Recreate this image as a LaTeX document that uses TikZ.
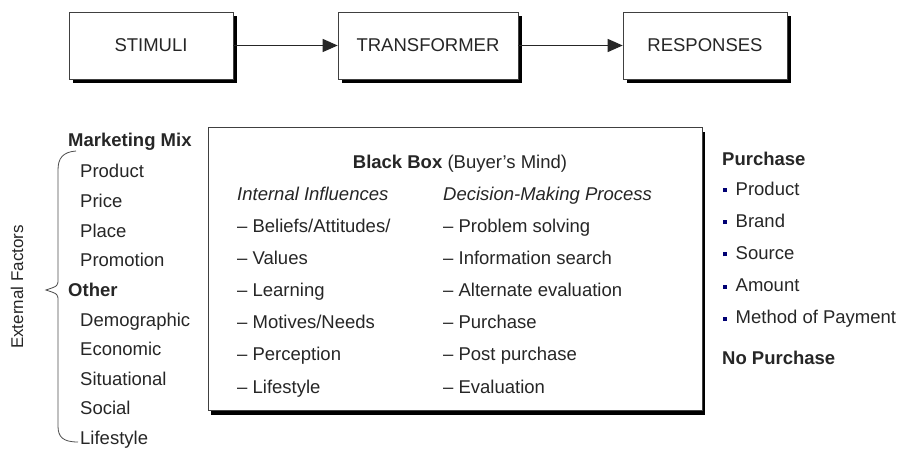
\documentclass[tikz,border=0pt]{standalone}
\usepackage{fontspec}
\setmainfont{Liberation Sans}
\usetikzlibrary{arrows.meta,shadows}

\newcommand{\sqbullet}{\textcolor{blue!45!black}{\rule[3pt]{3.5pt}{4pt}}}

\begin{document}
\begin{tikzpicture}[
  x=1pt,y=-1pt,
  font=\fontsize{18.5}{22}\selectfont,
  every node/.style={text=black!85,inner sep=0pt},
  stage/.style={draw=black!75,semithick,fill=white,minimum height=67pt,
    general shadow={fill=black,shadow xshift=4pt,shadow yshift=-4pt}},
  mindbox/.style={draw=black!75,semithick,fill=white,
    minimum width=494pt,minimum height=283pt,
    general shadow={fill=black,shadow xshift=3pt,shadow yshift=-5pt}},
  item/.style={anchor=base west},
  head/.style={anchor=base west,font=\fontsize{18.5}{22}\selectfont\bfseries},
  subhead/.style={anchor=base west,font=\fontsize{18.5}{22}\selectfont\itshape},
  to/.style={-{Triangle[length=15pt,width=13pt]},very thick,black!85},
  brace/.style={draw=black!70,thick}]
\useasboundingbox (0,0) rectangle (901,449);
% The three stages across the top
  \node[stage,minimum width=164pt] (stimuli)     at (151,45.5) {STIMULI};
  \node[stage,minimum width=180pt] (transformer) at (428,45.5) {TRANSFORMER};
  \node[stage,minimum width=164pt] (responses)   at (705,45.5) {RESPONSES};

  \draw[to] (stimuli)     -- (transformer);
  \draw[to] (transformer) -- (responses);

% External factors on the left
  \node[rotate=90,font=\fontsize{17}{20}\selectfont] (external) at (17,287) {External Factors};
  \node[head] (mktmix)   at (68,147)   {Marketing Mix};
  \node[item] (product)  at (80,178)   {Product};
  \node[item] (price)    at (80,207.6) {Price};
  \node[item] (place)    at (80,237.2) {Place};
  \node[item] (promo)    at (80,266.8) {Promotion};
  \node[head] (other)    at (68,296.4) {Other};
  \node[item] (demo)     at (80,326)   {Demographic};
  \node[item] (econ)     at (80,355.6) {Economic};
  \node[item] (situ)     at (80,385.2) {Situational};
  \node[item] (social)   at (80,414.8) {Social};
  \node[item] (life)     at (80,444.4) {Lifestyle};

  \path[brace] (76,151) .. controls (63,152) and (58,158) .. (58,170)
               -- (58,279) .. controls (58,286) .. (46,290)
               .. controls (58,294) .. (58,301)
               -- (58,426) .. controls (58,437) and (63,442) .. (78,442);

% The black box in the middle
  \node[mindbox] (blackbox) at (455,268.5) {};
  \node[anchor=base] (bbtitle) at (460,168) {\textbf{Black Box} (Buyer's Mind)};
  \node[subhead] (internal) at (237,200) {Internal Influences};
  \node[subhead] (decision) at (443,200) {Decision-Making Process};

  \node[item] (beliefs)    at (237,232)   {-- Beliefs/Attitudes/};
  \node[item] (values)     at (237,264.2) {-- Values};
  \node[item] (learning)   at (237,296.4) {-- Learning};
  \node[item] (motives)    at (237,328.6) {-- Motives/Needs};
  \node[item] (perception) at (237,360.8) {-- Perception};
  \node[item] (lifestyle)  at (237,393)   {-- Lifestyle};

  \node[item] (problem)    at (443,232)   {-- Problem solving};
  \node[item] (search)     at (443,264.2) {-- Information search};
  \node[item] (alternate)  at (443,296.4) {-- Alternate evaluation};
  \node[item] (purchstep)  at (443,328.6) {-- Purchase};
  \node[item] (postpurch)  at (443,360.8) {-- Post purchase};
  \node[item] (evaluation) at (443,393)   {-- Evaluation};

% Responses on the right
  \node[head] (purchase)   at (722,165)   {Purchase};
  \node[item] (rproduct)   at (723,195)   {\sqbullet\hspace{9pt}Product};
  \node[item] (brand)      at (723,227.2) {\sqbullet\hspace{9pt}Brand};
  \node[item] (source)     at (723,259.4) {\sqbullet\hspace{9pt}Source};
  \node[item] (amount)     at (723,291.6) {\sqbullet\hspace{9pt}Amount};
  \node[item] (payment)    at (723,323.8) {\sqbullet\hspace{9pt}Method of Payment};
  \node[head] (nopurchase) at (722,364)   {No Purchase};
\end{tikzpicture}
\end{document}
